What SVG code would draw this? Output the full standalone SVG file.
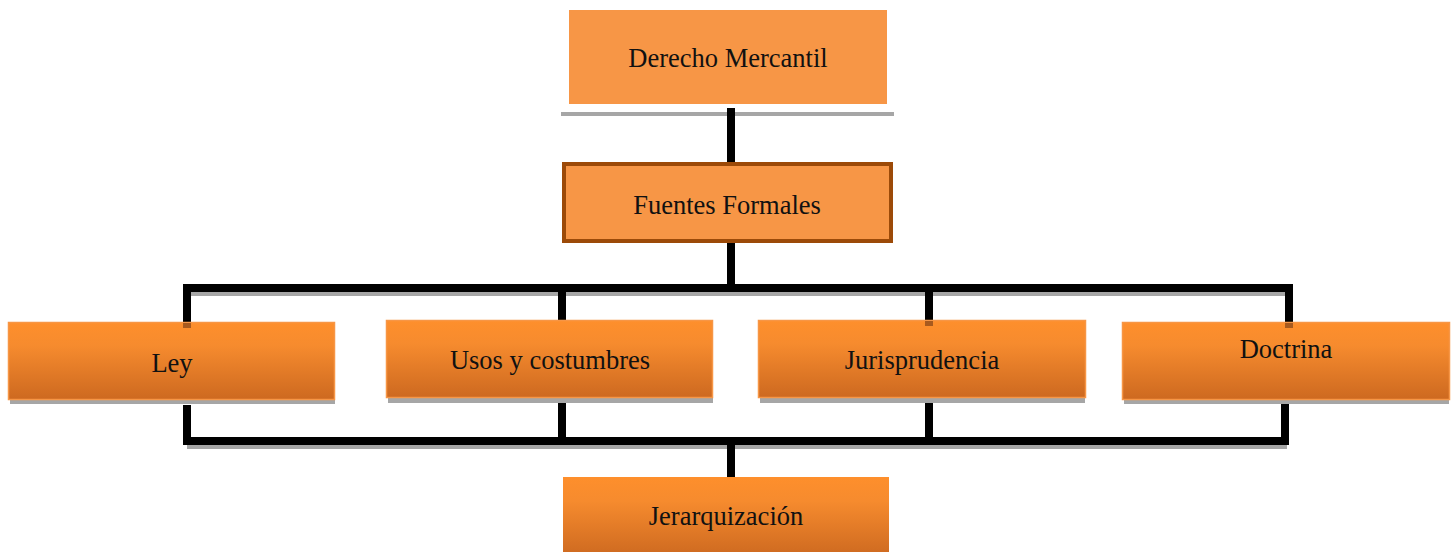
<svg xmlns="http://www.w3.org/2000/svg" width="1454" height="552" viewBox="0 0 1454 552">
<defs>
<linearGradient id="og" x1="0" y1="0" x2="0" y2="1">
<stop offset="0" stop-color="#fe8f2c"/>
<stop offset="0.3" stop-color="#f68b2e"/>
<stop offset="1" stop-color="#cd6920"/>
</linearGradient>
</defs>
<style>
.txt{font-family:"Liberation Serif","Times New Roman",serif;font-size:26.5px;fill:#111;text-anchor:middle}
.line{stroke:#000;stroke-width:8;fill:none;stroke-linejoin:miter;stroke-linecap:butt}
.shadow{stroke:#a6a6a6;stroke-width:4;fill:none}
.box{fill:url(#og);stroke:#f79646;stroke-width:1.5}
.bshadow{fill:#a6a6a6}
.patch{fill:#a85a1e}
</style>
<g id="connectors">
<line x1="561" y1="114" x2="894" y2="114" stroke="#a6a6a6" stroke-width="4"/>
<line class="line" x1="731" y1="108" x2="731" y2="166"/>
<line class="line" x1="731" y1="242" x2="731" y2="288"/>
<polyline class="shadow" points="189,294 1291,294"/>
<polyline class="line" points="187,328 187,288 1289,288 1289,328"/>
<line class="line" x1="562" y1="288" x2="562" y2="322"/>
<line class="line" x1="929" y1="288" x2="929" y2="322"/>
<polyline class="shadow" points="187,447 1287,447"/>
<polyline class="line" points="187,405 187,441 1285,441 1285,399"/>
<line class="line" x1="562" y1="398" x2="562" y2="441"/>
<line class="line" x1="929" y1="398" x2="929" y2="441"/>
<line class="line" x1="731" y1="441" x2="731" y2="477"/>
</g>
<g id="n-derecho">
<rect x="569" y="10" width="318" height="94" fill="#f79646"/>
<text class="txt" x="728" y="67">Derecho Mercantil</text>
</g>
<g id="n-fuentes">
<rect x="564" y="164" width="327" height="77" fill="#f79646" stroke="#9c4a08" stroke-width="4"/>
<text class="txt" x="727" y="214">Fuentes Formales</text>
</g>
<g id="n-ley">
<rect class="bshadow" x="10" y="399" width="325" height="5"/>
<rect class="box" x="8.5" y="322.5" width="326" height="77"/>
<rect class="patch" x="183" y="323" width="8" height="5"/>
<text class="txt" x="172" y="372">Ley</text>
</g>
<g id="n-usos">
<rect class="bshadow" x="388" y="398" width="325" height="5"/>
<rect class="box" x="386.5" y="320.5" width="326" height="77"/>
<text class="txt" x="550" y="369">Usos y costumbres</text>
</g>
<g id="n-juris">
<rect class="bshadow" x="760" y="398" width="325" height="5"/>
<rect class="box" x="758.5" y="320.5" width="327" height="77"/>
<rect class="patch" x="925" y="321" width="8" height="5"/>
<text class="txt" x="922" y="369">Jurisprudencia</text>
</g>
<g id="n-doctrina">
<rect class="bshadow" x="1124" y="399" width="325" height="5"/>
<rect class="box" x="1122.5" y="322.5" width="327" height="77"/>
<rect class="patch" x="1285" y="323" width="8" height="5"/>
<text class="txt" x="1286" y="358">Doctrina</text>
</g>
<g id="n-jerarq">
<rect x="563" y="477" width="326" height="80" fill="url(#og)"/>
<text class="txt" x="726" y="525">Jerarquización</text>
</g>
</svg>
